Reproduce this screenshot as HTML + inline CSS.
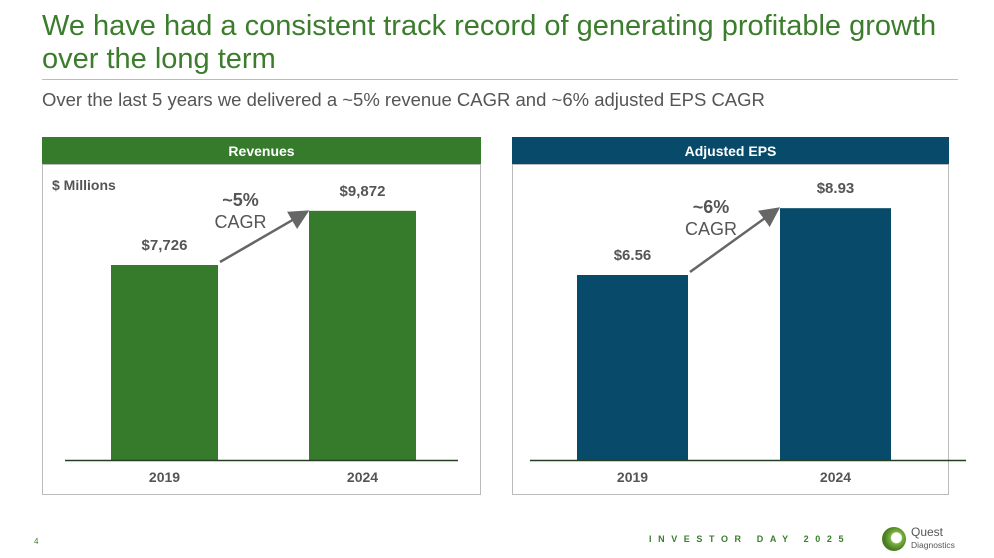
<!DOCTYPE html>
<html><head><meta charset="utf-8"><style>
body{margin:0;width:994px;height:558px;background:#fff;font-family:"Liberation Sans",sans-serif;position:relative;overflow:hidden}
.abs{position:absolute}
</style></head><body>
<div class="abs" style="left:42px;top:10px;width:920px;font-size:29px;line-height:33px;color:#3b7d2d">We have had a consistent track record of generating profitable growth<br>over the long term</div>
<div class="abs" style="left:42px;top:79px;width:916px;height:1px;background:#bbb"></div>
<div class="abs" style="left:42px;top:89px;font-size:18.5px;color:#555">Over the last 5 years we delivered a ~5% revenue CAGR and ~6% adjusted EPS CAGR</div>
<svg class="abs" style="left:0;top:0" width="994" height="558">
<defs><marker id="ah" markerWidth="8" markerHeight="8" refX="6" refY="4" orient="auto"><path d="M0,0 L8,4 L0,8 Z" fill="#666"/></marker></defs>
<g id="g"></g>
</svg>
<div class="abs" style="left:34px;top:537px;font-size:8px;color:#3b7d2d">4</div>
<div class="abs" style="left:649px;top:534px;font-size:9px;font-weight:bold;letter-spacing:6.6px;color:#3b7d2d">INVESTOR DAY 2025</div>
<div class="abs" style="left:882px;top:527px;width:24px;height:24px;border-radius:50%;background:radial-gradient(circle at 60% 45%,#fff 0 5px,#7cb342 6px,#4a7d23 12px)"></div>
<div class="abs" style="left:911px;top:526px;font-size:12px;line-height:12px;color:#555">Quest<br><span style="font-size:8.5px">Diagnostics</span></div>
<script>
const categories=["2019","2024"];
const revValues=[7726,9872];
const revLabels=["$7,726","$9,872"];
const epsValues=[6.56,8.93];
const epsLabels=["$6.56","$8.93"];
const NS="http://www.w3.org/2000/svg";
const g=document.getElementById('g');
function mk(t,a,p){const e=document.createElementNS(NS,t);for(const k in a)e.setAttribute(k,a[k]);(p||g).appendChild(e);return e;}
function panel(o){
 const h=mk('rect',{x:o.x,y:137,width:o.w,height:27,fill:o.color});
 
 
 const b=mk('rect',{x:o.x+0.5,y:164.5,width:o.w-1,height:330,fill:'none',stroke:'#bbb'});
 
 
 const ht=mk('text',{x:o.x+o.w/2,y:156,'text-anchor':'middle','font-size':14,'font-weight':'bold',fill:'#fff'});ht.textContent=o.title;
 
 
 const base=460;
 const y=v=>base-v*o.scale;
 const tops=[];
 o.values.forEach((v,i)=>{
  const r=mk('rect',{x:o.bx[i],y:y(v),width:o.bw,height:base-y(v),fill:o.color});
  
  
  tops.push(y(v));
  const l=mk('text',{x:o.bx[i]+o.bw/2,y:y(v)-15,'text-anchor':'middle','font-size':15,'font-weight':'bold',fill:'#555'});l.textContent=o.labels[i];
  
  
  const c=mk('text',{x:o.bx[i]+o.bw/2,y:482,'text-anchor':'middle','font-size':14,'font-weight':'bold',fill:'#555'});c.textContent=categories[i];
  
  
 });
 const ax=mk('line',{x1:o.ax[0],x2:o.ax[1],y1:base+0.5,y2:base+0.5,stroke:'#243f24','stroke-width':1.5});
 
 
 const ar=mk('line',{x1:o.bx[0]+o.bw+2,y1:tops[0]-3,x2:o.bx[1]-4,y2:tops[1]+2,stroke:'#666','stroke-width':2.5,'marker-end':'url(#ah)'});
 
 
 const cx=(o.bx[0]+o.bw+o.bx[1])/2-23;
 const t1=mk('text',{x:cx,y:o.cy,'text-anchor':'middle','font-size':18,'font-weight':'bold',fill:'#555'});t1.textContent=o.cagr;
 
 
 const t2=mk('text',{x:cx,y:o.cy+22,'text-anchor':'middle','font-size':18,fill:'#555'});t2.textContent='CAGR';
 
 
}
panel({name:'revenues',title:'Revenues',x:42,w:439,color:'#367a2c',values:revValues,labels:revLabels,scale:195/7726,bx:[111,309],bw:107,ax:[65,458],cagr:'~5%',cy:206});
panel({name:'eps',title:'Adjusted EPS',x:512,w:437,color:'#084a69',values:epsValues,labels:epsLabels,scale:185/6.56,bx:[577,780],bw:111,ax:[530,966],cagr:'~6%',cy:213});
const u=mk('text',{x:52,y:190,'font-size':14,'font-weight':'bold',fill:'#555'});u.textContent='$ Millions';


</script>
</body></html>
